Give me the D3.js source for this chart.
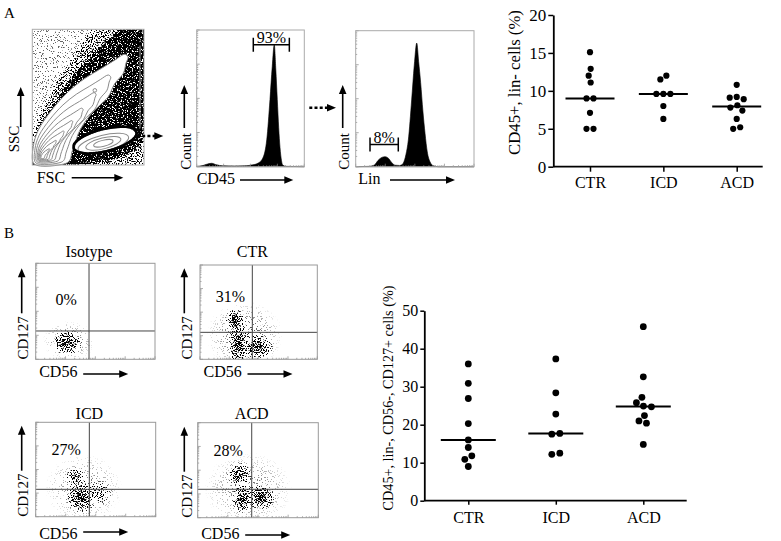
<!DOCTYPE html>
<html>
<head>
<meta charset="utf-8">
<script src="https://d3js.org/d3.v7.min.js"></script>
<style>
  body { margin: 0; background: #fff; }
  svg { display: block; font-family: "Liberation Serif", "Times New Roman", serif; }
</style>
</head>
<body>
<div id="fig"></div>
<script>
// ---------- values ----------
const groups = ["CTR", "ICD", "ACD"];

// A: CD45+, lin- cells (%)
const linNegCTR = [15.1, 12.9, 12.0, 11.1, 9.0, 9.0, 7.1, 5.0, 5.0];
const linNegICD = [12.0, 11.5, 9.6, 9.6, 9.6, 8.0, 6.3];
const linNegACD = [10.8, 9.2, 9.1, 8.9, 8.1, 7.8, 7.4, 6.3, 5.2, 5.0];
const linNegTicks = [0, 5, 10, 15, 20];

// B: CD45+, lin-, CD56-, CD127+ cells (%)
const ilcCTR = [36.0, 30.9, 26.9, 20.3, 16.0, 14.0, 11.8, 10.9, 9.0];
const ilcICD = [37.3, 28.4, 22.8, 17.7, 17.5, 12.5, 12.2];
const ilcACD = [45.8, 32.6, 27.2, 25.8, 24.9, 24.7, 22.4, 21.0, 20.4, 14.8];
const ilcTicks = [0, 10, 20, 30, 40, 50];

// histograms: channel (0-1000 across the plot) and count (% of peak)
const cd45Channel = [0, 60, 93, 139, 186, 240, 350, 450, 520, 572, 619, 651, 681, 702, 721, 735, 749, 762, 774, 788, 799, 830, 1000];
const cd45Count = [0.3, 1, 2, 2.8, 1.5, 0.8, 0.6, 0.8, 1.5, 3, 8, 22, 55, 82, 100, 80, 55, 32, 16, 5, 1.4, 0.3, 0];
const cd45Gate = [526, 861, 100];
const linChannel = [0, 120, 160, 188, 220, 248, 280, 307, 335, 370, 389, 402, 425, 445, 473, 495, 516, 532, 549, 568, 586, 605, 628, 656, 700, 1000];
const linCount = [0, 0.3, 1.5, 5, 7.5, 8.1, 6.5, 3, 1.2, 1, 1.5, 2.8, 10, 21.6, 54, 82, 100, 85, 68, 45, 27, 12, 4, 0.8, 0, 0];
const linGate = [121, 360, 18];

// FSC / SSC plot (fractions of each axis)
const fsMid = [[0, 0.221], [0.114, 0.442], [0.266, 0.663], [0.427, 0.862], [0.535, 1], [1, 1], [1, 0], [0, 0]];
const fsDense = [[0, 0.111], [0.069, 0.273], [0.203, 0.457], [0.355, 0.641], [0.517, 0.796], [0.678, 0.921],
  [0.803, 1], [1, 1], [1, 0.221], [0.946, 0.133], [0.83, 0.074], [0.695, 0.037], [0.516, 0.015], [0, 0]];
const lobeLeft = [[0.018, 0.007], [0.009, 0.135], [0.054, 0.258], [0.174, 0.405], [0.322, 0.54], [0.472, 0.639],
  [0.621, 0.713], [0.74, 0.774], [0.83, 0.816]];
const lobeRight = [[0.857, 0.796], [0.839, 0.751], [0.815, 0.676], [0.74, 0.602], [0.68, 0.503], [0.606, 0.442],
  [0.532, 0.381], [0.427, 0.258], [0.382, 0.16], [0.355, 0.096], [0.337, 0.037], [0.302, 0.0125]];
const lobeCore = [0.084, 0.052];
const gateCentre = [0.651, 0.184];
const gateCore = [0.636, 0.160];

// B: CD56 / CD127 plots
const flowTitles = ["Isotype", "CTR", "ICD", "ACD"];
const flowPercents = ["0%", "31%", "27%", "28%"];
const quadCD56 = [0.447, 0.446, 0.447, 0.448];
const quadCD127 = [0.295, 0.286, 0.29, 0.299];
// populations: [CD56, CD127, spread CD56, spread CD127, density]
const popIsotype = [[0.26, 0.17, 0.1, 0.1, 0.9], [0.28, 0.19, 0.17, 0.16, 0.15]];
const popCTR = [[0.3, 0.42, 0.065, 0.09, 0.9], [0.326, 0.15, 0.06, 0.18, 0.85], [0.49, 0.13, 0.11, 0.1, 0.8], [0.38, 0.25, 0.25, 0.28, 0.18]];
const popICD = [[0.328, 0.424, 0.06, 0.075, 0.7], [0.383, 0.212, 0.1, 0.14, 0.85], [0.536, 0.25, 0.09, 0.11, 0.3], [0.4, 0.3, 0.25, 0.28, 0.14]];
const popACD = [[0.343, 0.46, 0.08, 0.1, 0.75], [0.371, 0.197, 0.065, 0.12, 0.85], [0.523, 0.215, 0.095, 0.1, 0.85], [0.42, 0.3, 0.28, 0.3, 0.14]];

// ---------- canvas ----------
const svg = d3.select("#fig").append("svg").attr("width", 781).attr("height", 541);
const defs = svg.append("defs");

// grainy "events" look for the flow plots
const sp = defs.append("filter").attr("id", "speckle")
  .attr("x", "-10%").attr("y", "-10%").attr("width", "120%").attr("height", "120%")
  .attr("color-interpolation-filters", "sRGB");
sp.append("feGaussianBlur").attr("in", "SourceGraphic").attr("stdDeviation", 1.2).attr("result", "dens");
sp.append("feTurbulence").attr("type", "fractalNoise").attr("baseFrequency", 0.8)
  .attr("numOctaves", 2).attr("seed", 7).attr("result", "turb");
sp.append("feColorMatrix").attr("in", "turb").attr("type", "matrix")
  .attr("values", "0 0 0 0 0  0 0 0 0 0  0 0 0 0 0  3.2 0 0 0 -1.1").attr("result", "noise");
sp.append("feComposite").attr("in", "dens").attr("in2", "noise").attr("operator", "arithmetic")
  .attr("k1", 0).attr("k2", 5).attr("k3", -5).attr("k4", 0);

const blob = defs.append("radialGradient").attr("id", "blob");
blob.append("stop").attr("offset", "0%").attr("stop-color", "#000").attr("stop-opacity", 1);
blob.append("stop").attr("offset", "45%").attr("stop-color", "#000").attr("stop-opacity", 0.6);
blob.append("stop").attr("offset", "100%").attr("stop-color", "#000").attr("stop-opacity", 0);

function arrow(x1, y1, x2, y2, dotted) {
  const a = Math.atan2(y2 - y1, x2 - x1), L = 9, w = 3.8;
  const bx = x2 - L * Math.cos(a), by = y2 - L * Math.sin(a);
  svg.append("line")
    .attr("x1", x1).attr("y1", y1)
    .attr("x2", bx + Math.cos(a)).attr("y2", by + Math.sin(a))
    .attr("stroke", "#000")
    .attr("stroke-width", dotted ? 2.6 : 1.6)
    .attr("stroke-dasharray", dotted ? "3,2.2" : null);
  svg.append("path")
    .attr("d", `M${x2},${y2}L${bx - w * Math.sin(a)},${by + w * Math.cos(a)}L${bx + w * Math.sin(a)},${by - w * Math.cos(a)}Z`)
    .attr("fill", "#000");
}

function label(x, y, txt, size, anchor, rotate) {
  const t = svg.append("text")
    .attr("font-size", size)
    .attr("text-anchor", anchor || "start")
    .text(txt);
  if (rotate) t.attr("transform", `translate(${x},${y}) rotate(-90)`);
  else t.attr("x", x).attr("y", y);
  return t;
}

// minor log ticks along the inside of a flow plot frame
function frameTicks(g, x0, y0, x1, y1) {
  const lx = d3.scaleLog().domain([1, 1e4]).range([x0, x1]);
  const ly = d3.scaleLog().domain([1, 1e4]).range([y1, y0]);
  const tv = lx.ticks();
  g.selectAll(null).data(tv).enter().append("line")
    .attr("x1", (d) => lx(d)).attr("x2", (d) => lx(d))
    .attr("y1", y1).attr("y2", (d) => y1 - (Math.log10(d) % 1 === 0 ? 3 : 1.5))
    .attr("stroke", "#888").attr("stroke-width", 0.7);
  g.selectAll(null).data(tv).enter().append("line")
    .attr("y1", (d) => ly(d)).attr("y2", (d) => ly(d))
    .attr("x1", x0).attr("x2", (d) => x0 + (Math.log10(d) % 1 === 0 ? 3 : 1.5))
    .attr("stroke", "#888").attr("stroke-width", 0.7);
}

// panel letters
label(4, 18, "A", 15);
label(4, 238, "B", 15);

// ---------- A: FSC / SSC ----------
(function () {
  const x0 = 32.3, y0 = 29.3, x1 = 144, y1 = 165;
  const fx = d3.scaleLinear().domain([0, 1]).range([x0, x1]);
  const fy = d3.scaleLinear().domain([0, 1]).range([y1, y0]);
  const smooth = d3.line().x((d) => fx(d[0])).y((d) => fy(d[1])).curve(d3.curveCatmullRomClosed);
  const straight = d3.line().x((d) => fx(d[0])).y((d) => fy(d[1])).curve(d3.curveLinearClosed);

  defs.append("clipPath").attr("id", "clipFs").append("rect")
    .attr("x", x0).attr("y", y0).attr("width", x1 - x0).attr("height", y1 - y0);
  const g = svg.append("g");
  const dens = g.append("g").attr("clip-path", "url(#clipFs)").append("g").attr("filter", "url(#speckle)");
  dens.append("rect").attr("x", x0).attr("y", y0).attr("width", x1 - x0).attr("height", y1 - y0)
    .attr("fill", "#000").attr("fill-opacity", 0.12);
  dens.append("path").attr("d", straight(fsMid)).attr("fill", "#000").attr("fill-opacity", 0.4);
  dens.append("path").attr("d", smooth(fsDense)).attr("fill", "#000").attr("fill-opacity", 0.95);

  // floor of events
  g.append("line").attr("x1", fx(0.02)).attr("x2", fx(0.52)).attr("y1", y1 - 1.8).attr("y2", y1 - 1.8)
    .attr("stroke", "#000").attr("stroke-width", 1.6);
  // saturated events on the right edge
  g.append("line").attr("x1", x1 - 4).attr("x2", x1 - 4).attr("y1", fy(0.88)).attr("y2", fy(0.27))
    .attr("stroke", "#999").attr("stroke-width", 1);

  // contour lobe
  const lobe = lobeLeft.concat(lobeRight);
  g.append("path").attr("d", smooth(lobe)).attr("fill", "#fff").attr("stroke", "#8a8a8a").attr("stroke-width", 1);
  [0.8, 0.63, 0.48, 0.36, 0.26, 0.17, 0.09].forEach((f) => {
    const pts = lobe.map((p) => [lobeCore[0] + (p[0] - lobeCore[0]) * f, lobeCore[1] + (p[1] - lobeCore[1]) * f]);
    g.append("path").attr("d", smooth(pts)).attr("fill", "none").attr("stroke", "#8a8a8a").attr("stroke-width", 1);
  });
  g.append("circle").attr("cx", fx(0.56)).attr("cy", fy(0.55)).attr("r", 1.8)
    .attr("fill", "none").attr("stroke", "#8a8a8a");

  // gate with its inner contours
  const gx = fx(gateCentre[0]), gy = fy(gateCentre[1]);
  g.append("ellipse").attr("cx", gx).attr("cy", gy).attr("rx", 31).attr("ry", 10)
    .attr("transform", `rotate(-14,${gx},${gy})`).attr("fill", "#fff");
  const cx = fx(gateCore[0]), cy = fy(gateCore[1]);
  [[26, 8], [18, 5.5], [10, 3]].forEach((r) => {
    g.append("ellipse").attr("cx", cx).attr("cy", cy).attr("rx", r[0]).attr("ry", r[1])
      .attr("transform", `rotate(-14,${cx},${cy})`)
      .attr("fill", "none").attr("stroke", "#8a8a8a").attr("stroke-width", 1);
  });
  g.append("ellipse").attr("cx", gx).attr("cy", gy).attr("rx", 32.5).attr("ry", 11.2)
    .attr("transform", `rotate(-14,${gx},${gy})`)
    .attr("fill", "none").attr("stroke", "#000").attr("stroke-width", 2.6);

  g.append("rect").attr("x", x0).attr("y", y0).attr("width", x1 - x0).attr("height", y1 - y0)
    .attr("fill", "none").attr("stroke", "#aaa").attr("stroke-width", 1);

  label(19.3, 139, "SSC", 15, "middle", true);
  arrow(20.7, 127, 20.7, 87);
  label(36.7, 183, "FSC", 16);
  arrow(71.7, 177.7, 123.3, 177.7);
  arrow(137, 136, 163.3, 136, true);
})();

// ---------- A: histograms ----------
function histogram(box, channel, count, yMax, gate, gateText, axisText, textX, countX, arrowX, arrowX0, arrowX1) {
  const [x0, y0, x1, y1] = box;
  const x = d3.scaleLinear().domain([0, 1000]).range([x0, x1]);
  const y = d3.scaleLinear().domain([0, yMax]).range([y1, y0]);
  const g = svg.append("g");
  const area = d3.area()
    .x((d, i) => x(channel[i]))
    .y0(y(0))
    .y1((d) => y(d))
    .curve(d3.curveMonotoneX);
  g.append("path").datum(count).attr("d", area).attr("fill", "#000").attr("stroke", "#000").attr("stroke-width", 0.6);
  frameTicks(g, x0, y0, x1, y1);
  g.append("rect").attr("x", x0).attr("y", y0).attr("width", x1 - x0).attr("height", y1 - y0)
    .attr("fill", "none").attr("stroke", "#aaa").attr("stroke-width", 1);

  // gate bracket
  const gyy = y(gate[2]);
  g.append("path")
    .attr("d", `M${x(gate[0])},${gyy - 7}V${gyy + 7}M${x(gate[0])},${gyy}H${x(gate[1])}M${x(gate[1])},${gyy - 7}V${gyy + 7}`)
    .attr("fill", "none").attr("stroke", "#000").attr("stroke-width", 1.5);
  label((x(gate[0]) + x(gate[1])) / 2, gyy - 1.5, gateText, 16, "middle");

  label(countX, 151.5, "Count", 15, "middle", true);
  arrow(arrowX, 128, arrowX, 85);
  label(textX, 184, axisText, 16);
  arrow(arrowX0, 180, arrowX1, 180);
}
histogram([196.7, 30, 304.3, 166.7], cd45Channel, cd45Count, 112, cd45Gate, "93%", "CD45", 196.7, 190.5, 184.3, 240, 293.3);
arrow(309.3, 107.7, 336, 107.7, true);
histogram([355.7, 30.7, 474, 166.7], linChannel, linCount, 110, linGate, "8%", "Lin", 358.3, 348.5, 342.7, 390, 455);

// ---------- B: CD56 / CD127 plots ----------
const flowBoxes = [[35.7, 263.3, 155, 359.3], [200, 265, 317.3, 359.3], [35.7, 422.3, 155.7, 516.7], [197.7, 422.7, 318.3, 517.7]];
const flowPops = [popIsotype, popCTR, popICD, popACD];
const titleBase = [257, 257, 419, 419];
const pctBase = [305, 302, 455, 456];
const cd127ArrowX = [21.7, 184.3, 21.7, 184.3];
const cd127TextX = [28.3, 191.5, 28.3, 191.5];
const cd56Base = [377, 377, 539, 539];
const cd56ArrowY = [374, 374, 532, 535];

flowBoxes.forEach((b, i) => {
  const [x0, y0, x1, y1] = b;
  const sx = d3.scaleLinear().domain([0, 1]).range([x0, x1]);
  const sy = d3.scaleLinear().domain([0, 1]).range([y1, y0]);
  const g = svg.append("g");
  defs.append("clipPath").attr("id", "clipB" + i).append("rect")
    .attr("x", x0).attr("y", y0).attr("width", x1 - x0).attr("height", y1 - y0);
  const dens = g.append("g").attr("clip-path", `url(#clipB${i})`).append("g").attr("filter", "url(#speckle)");
  dens.selectAll("ellipse").data(flowPops[i]).enter().append("ellipse")
    .attr("cx", (d) => sx(d[0]))
    .attr("cy", (d) => sy(d[1]))
    .attr("rx", (d) => d[2] * (x1 - x0) * 1.3)
    .attr("ry", (d) => d[3] * (y1 - y0) * 1.3)
    .attr("fill", "url(#blob)")
    .attr("fill-opacity", (d) => d[4]);

  frameTicks(g, x0, y0, x1, y1);
  g.append("line").attr("x1", sx(quadCD56[i])).attr("x2", sx(quadCD56[i])).attr("y1", y0).attr("y2", y1)
    .attr("stroke", "#444").attr("stroke-width", 1);
  g.append("line").attr("x1", x0).attr("x2", x1).attr("y1", sy(quadCD127[i])).attr("y2", sy(quadCD127[i]))
    .attr("stroke", "#444").attr("stroke-width", 1);
  g.append("rect").attr("x", x0).attr("y", y0).attr("width", x1 - x0).attr("height", y1 - y0)
    .attr("fill", "none").attr("stroke", "#999").attr("stroke-width", 1);

  label(sx(quadCD56[i]), titleBase[i], flowTitles[i], 16, "middle");
  label(x0 + 30.5, pctBase[i], flowPercents[i], 16, "middle");
  label(cd127TextX[i], y1 - 21.5, "CD127", 15, "middle", true);
  arrow(cd127ArrowX[i], y1 - 46, cd127ArrowX[i], y1 - 91);
  label(x0 + 3.5, cd56Base[i], "CD56", 16);
  arrow(x0 + 47.5, cd56ArrowY[i], x0 + 92.5, cd56ArrowY[i]);
});

// ---------- dot plots ----------
function swarm(values, y, r) {
  const minD = 2 * r + 0.8;
  const placed = [];
  values.slice().sort((a, b) => b - a).forEach((v) => {
    const py = y(v);
    let dx = 0;
    for (let k = 0; k < 80; k++) {
      const off = (k % 2 ? -1 : 1) * Math.ceil(k / 2) * 0.5;
      if (placed.every((p) => Math.hypot(p.dx - off, p.y - py) >= minD)) { dx = off; break; }
    }
    placed.push({ v: v, dx: dx, y: py });
  });
  // centre each clump of touching dots
  const seen = new Set();
  placed.forEach((p, i) => {
    if (seen.has(i)) return;
    const comp = [i];
    seen.add(i);
    for (let q = 0; q < comp.length; q++) {
      placed.forEach((o, j) => {
        const a = placed[comp[q]];
        if (!seen.has(j) && Math.hypot(a.dx - o.dx, a.y - o.y) < minD + 0.6) { seen.add(j); comp.push(j); }
      });
    }
    const m = d3.mean(comp, (j) => placed[j].dx);
    comp.forEach((j) => { placed[j].dx -= m; });
  });
  return placed;
}

function dotPlot(cfg) {
  const x = d3.scalePoint().domain(groups).range([cfg.c0, cfg.c1]);
  const y = d3.scaleLinear().domain([0, cfg.ticks[cfg.ticks.length - 1]]).range([cfg.bottom, cfg.top]);
  const g = svg.append("g");

  const ya = g.append("g")
    .attr("transform", `translate(${cfg.left},0)`)
    .call(d3.axisLeft(y).tickValues(cfg.ticks).tickSize(cfg.tick).tickSizeOuter(0).tickPadding(2));
  ya.attr("font-family", null).attr("font-size", cfg.tickFont);
  ya.select(".domain").attr("stroke-width", 1.8);
  ya.selectAll(".tick line").attr("stroke-width", 1.5);

  const xa = g.append("g")
    .attr("transform", `translate(0,${cfg.bottom})`)
    .call(d3.axisBottom(x).tickSize(cfg.tick).tickPadding(cfg.catPad));
  xa.attr("font-family", null).attr("font-size", 16);
  xa.select(".domain").remove();
  xa.selectAll(".tick line").attr("stroke-width", 1.5);
  g.append("line").attr("x1", cfg.left).attr("x2", cfg.right).attr("y1", cfg.bottom).attr("y2", cfg.bottom)
    .attr("stroke", "#000").attr("stroke-width", 1.8);

  cfg.series.forEach((vals, i) => {
    const cx = x(groups[i]);
    g.selectAll(null).data(swarm(vals, y, cfg.r)).enter().append("circle")
      .attr("cx", (d) => cx + d.dx)
      .attr("cy", (d) => d.y)
      .attr("r", cfg.r)
      .attr("fill", "#000");
    const med = d3.median(vals);
    g.append("line").attr("x1", cx - cfg.half).attr("x2", cx + cfg.half)
      .attr("y1", y(med)).attr("y2", y(med))
      .attr("stroke", "#000").attr("stroke-width", 2);
  });

  label(cfg.labelX, cfg.labelY, cfg.yLabel, cfg.labelFont, "middle", true);
}

dotPlot({
  series: [linNegCTR, linNegICD, linNegACD], ticks: linNegTicks,
  left: 553.3, right: 762.7, top: 15, bottom: 166.7, c0: 590, c1: 736.7,
  tick: 5, catPad: 5, tickFont: 17, r: 3.1, half: 24.5,
  yLabel: "CD45+, lin- cells (%)", labelX: 520, labelY: 82.5, labelFont: 16.7
});

dotPlot({
  series: [ilcCTR, ilcICD, ilcACD], ticks: ilcTicks,
  left: 424.3, right: 686.7, top: 310.7, bottom: 500.7, c0: 468.3, c1: 643.3,
  tick: 4, catPad: 7, tickFont: 16, r: 3.4, half: 27.5,
  yLabel: "CD45+, lin-, CD56-, CD127+ cells (%)", labelX: 393, labelY: 398, labelFont: 14.2
});
</script>
</body>
</html>
